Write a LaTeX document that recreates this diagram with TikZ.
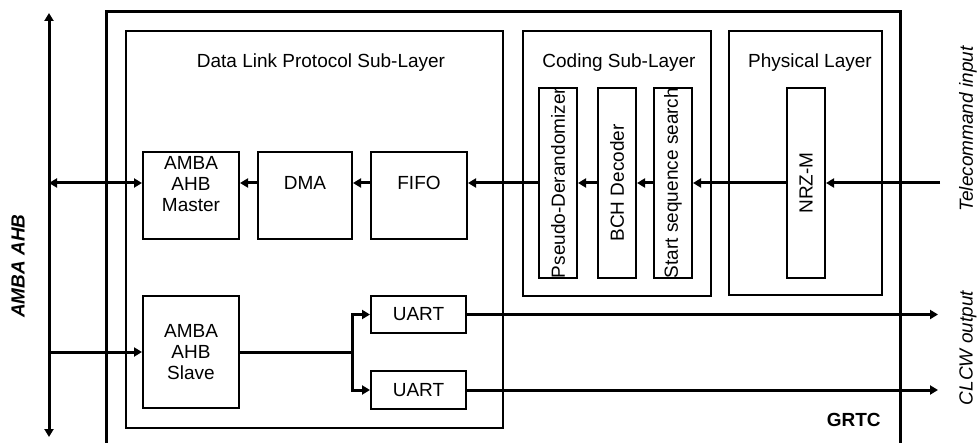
\documentclass[tikz,border=0pt]{standalone}
\usepackage{fontspec}
\setmainfont{Liberation Sans}
\usetikzlibrary{arrows.meta,positioning}
\definecolor{ink}{HTML}{000000}

\begin{document}
\begin{tikzpicture}[x=0.5pt,y=-0.5pt,font=\fontsize{9.5}{10.5}\selectfont,
  blk/.style={draw=ink,line width=1pt,inner sep=0pt,align=center},
  vblk/.style={blk,rotate=90,minimum width=95pt,minimum height=19pt},
  lbl/.style={text=ink,inner sep=0pt,align=center},
  io/.style={lbl,rotate=90,font=\fontsize{9.5}{10.5}\selectfont\itshape},
  sig/.style={draw=ink,line width=1.5pt,-{Triangle[length=4pt,width=4.5pt]}},
  bisig/.style={sig,{Triangle[length=4pt,width=4.5pt]}-{Triangle[length=4pt,width=4.5pt]}}]
\useasboundingbox (0,0) rectangle (978,443);
% layers
\node[blk,line width=1.5pt,minimum width=397pt,minimum height=220pt] (grtc) at (503,232) {};
\node[blk,minimum width=188.5pt,minimum height=198.5pt] (dll) at (314.5,229.5) {};
\node[blk,minimum width=94pt,minimum height=132.5pt] (csl) at (617,163.5) {};
\node[blk,minimum width=76.5pt,minimum height=132pt] (phy) at (805.5,163) {};
\node[lbl] (dllt) at (321,63) {Data Link Protocol Sub-Layer};
\node[lbl] (cslt) at (619,63) {Coding Sub-Layer};
\node[lbl] (phyt) at (810,63) {Physical Layer};
\node[lbl,anchor=east,font=\fontsize{9.5}{10.5}\selectfont\bfseries] (grtct) at (881,420) {GRTC};
% blocks
\node[blk,minimum width=48pt,minimum height=43.5pt] (master) at (191,195.5) {};
\node[blk,minimum width=47pt,minimum height=43.5pt] (dma) at (305,195.5) {};
\node[blk,minimum width=48pt,minimum height=43.5pt] (fifo) at (419,195.5) {};
\node[lbl] (mastert) at (191,184) {AMBA\\AHB\\Master};
\node[lbl] (dmat) at (305,183) {DMA};
\node[lbl] (fifot) at (419,183) {FIFO};
\node[blk,minimum width=48pt,minimum height=56pt] (slave) at (191,352) {AMBA\\AHB\\Slave};
\node[blk,minimum width=47.5pt,minimum height=18.5pt] (uart1) at (418.5,314.5) {UART};
\node[blk,minimum width=47.5pt,minimum height=19pt] (uart2) at (418.5,390) {UART};
\node[vblk] (pseudo) at (558,183) {Pseudo-Derandomizer};
\node[vblk] (bch) at (617,183) {BCH Decoder};
\node[vblk] (sss) at (673,183) {Start sequence search};
\node[vblk] (nrz) at (806,183) {NRZ-M};
% bus and ports
\coordinate (busT) at (49,13);
\coordinate (busB) at (49,437);
\coordinate (busM) at (49,183);
\coordinate (busS) at (49,352);
\coordinate (split) at (352,352);
\coordinate (tcin) at (940,183);
\coordinate (clcw) at (938,0);
\node[lbl,rotate=90,font=\fontsize{9.5}{10.5}\selectfont\bfseries\itshape] (ahbt) at (18,266) {AMBA AHB};
\node[io] (tct) at (968,129) {Telecommand input};
\node[io] (clcwt) at (968,348) {CLCW output};
% signals
\draw[bisig] (busT) -- (busB);
\draw[bisig] (busM) -- (master.west |- dmat);
\draw[sig] (dma.west |- dmat) -- (master.east |- dmat);
\draw[sig] (fifo.west |- fifot) -- (dma.east |- dmat);
\draw[sig] (pseudo.north) -- (fifo.east |- fifot);
\draw[sig] (bch.north) -- (pseudo.south);
\draw[sig] (sss.north) -- (bch.south);
\draw[sig] (nrz.north) -- (sss.south);
\draw[sig] (tcin) -- (nrz.south);
\draw[sig] (busS) -- (slave.west);
\draw[sig] (slave.east) -- (split) |- (uart1.west);
\draw[sig] (split) |- (uart2.west);
\draw[sig] (uart1.east) -- (uart1.east -| clcw);
\draw[sig] (uart2.east) -- (uart2.east -| clcw);
\end{tikzpicture}
\end{document}
